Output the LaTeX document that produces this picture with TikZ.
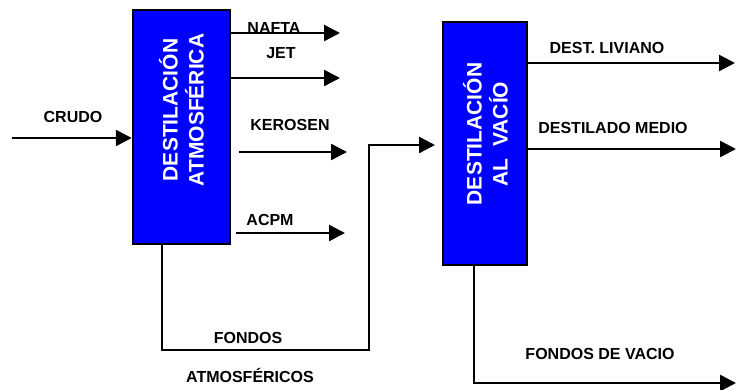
\documentclass[tikz,border=0pt]{standalone}
\usepackage{fontspec}
\setmainfont{Liberation Sans}
\usetikzlibrary{arrows.meta}
\definecolor{unitblue}{RGB}{0,0,255}
\tikzset{
  unit/.style={draw=black, line width=2.5pt, fill=unitblue, rectangle, inner sep=0pt},
  unittext/.style={text=white, font=\fontsize{21}{26}\selectfont\bfseries, rotate=90, align=center, inner sep=0pt},
  lbl/.style={font=\fontsize{16}{18}\selectfont\bfseries, inner sep=0pt},
  flow/.style={line width=2.5pt, -{Triangle[length=16pt,width=16pt]}},
  pipe/.style={line width=2.5pt}
}
\begin{document}
\begin{tikzpicture}[x=1pt,y=-1pt]
\useasboundingbox (0,0) rectangle (736,390);
% units
\node[unit, minimum width=97pt, minimum height=234pt] (atm) at (181.5,127) {};
\node[unittext] (atmtxt) at (181.5,110) {DESTILACIÓN\\ATMOSFÉRICA};
\node[unit, minimum width=84pt, minimum height=243pt] (vac) at (485,143.5) {};
\node[unittext] (vactxt) at (485.5,134) {DESTILACIÓN\\AL\ \ VACÍO};
% coordinates
\coordinate (crudoin) at (12,138);
\coordinate (naftaend) at (340,33);
\coordinate (jetstart) at (231,78);
\coordinate (jetend) at (340,78);
\coordinate (kerstart) at (239,152);
\coordinate (kerend) at (347,152);
\coordinate (acpmstart) at (236,233);
\coordinate (acpmend) at (345,233);
\coordinate (fa1) at (162,350);
\coordinate (fa2) at (369,350);
\coordinate (fa3) at (369,145);
\coordinate (faend) at (435,145);
\coordinate (livend) at (735,63);
\coordinate (medend) at (736,149);
\coordinate (fv1) at (474,383);
\coordinate (fvend) at (736,383);
% flows
\draw[flow] (crudoin) -- (crudoin -| atm.west);
\draw[flow] (naftaend -| atm.east) -- (naftaend);
\draw[flow] (jetstart) -- (jetend);
\draw[flow] (kerstart) -- (kerend);
\draw[flow] (acpmstart) -- (acpmend);
\draw[flow] (fa1 |- atm.south) -- (fa1) -- (fa2) -- (fa3) -- (faend);
\draw[flow] (livend -| vac.east) -- (livend);
\draw[flow] (medend -| vac.east) -- (medend);
\draw[flow] (fv1 |- vac.south) -- (fv1) -- (fvend);
% labels
\node[lbl] (lcrudo) at (73,117) {CRUDO};
\node[lbl] (lnafta) at (274,28) {NAFTA};
\node[lbl] (ljet) at (281,53) {JET};
\node[lbl] (lker) at (290,125) {KEROSEN};
\node[lbl] (lacpm) at (270,220) {ACPM};
\node[lbl] (lfondos) at (248,338) {FONDOS};
\node[lbl] (latm) at (250,375) {ATMOSFÉRICOS};
\node[lbl] (lliv) at (607,48) {DEST. LIVIANO};
\node[lbl] (lmed) at (613,128) {DESTILADO MEDIO};
\node[lbl] (lfv) at (600,354) {FONDOS DE VACIO};
\end{tikzpicture}
\end{document}
